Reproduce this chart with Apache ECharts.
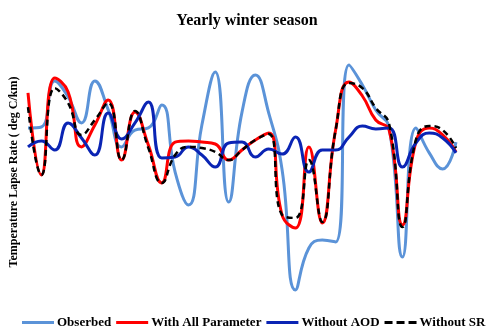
<!DOCTYPE html>
<html>
<head>
<meta charset="utf-8">
<script src="https://cdn.jsdelivr.net/npm/echarts@6/dist/echarts.min.js"></script>
<style>html,body{margin:0;padding:0;background:#fff}#c{width:500px;height:335px}</style>
</head>
<body>
<div id="c"></div>
<script>
var years = [];
for (var y = 1988; y <= 2020; y++) years.push(String(y));

var observed = [7.17,7.21,9.13,8.46,7.38,9.13,7.92,6.38,7.08,7.17,8.13,5.33,3.96,7.29,9.50,4.08,7.83,9.38,7.79,5.42,0.42,2.17,2.50,2.42,9.79,8.96,7.92,7.17,1.79,7.17,6.13,5.46,6.58];
var withAll = [8.63,5.21,9.25,8.67,6.38,7.29,8.33,5.83,7.83,6.46,4.88,6.58,6.63,6.58,6.50,5.83,6.25,6.67,6.96,3.54,3.00,6.38,3.21,7.08,9.08,8.50,7.50,7.08,3.13,6.58,7.17,6.88,6.17];
var withoutAOD = [6.38,6.63,6.25,7.38,6.75,6.04,7.79,6.71,7.38,8.25,5.92,5.96,6.38,6.04,5.54,6.54,6.58,5.96,6.29,6.08,6.79,5.33,6.25,6.25,6.79,7.25,7.13,7.17,5.54,6.54,6.96,6.75,6.13];
var withoutSR = [8.04,5.21,8.83,8.21,6.88,7.50,8.21,5.83,7.88,6.33,4.88,6.04,6.38,6.33,6.17,5.83,6.25,6.67,6.92,3.54,3.42,5.83,3.25,7.08,9.04,8.83,8.00,7.33,3.04,6.67,7.25,7.08,6.33];

var names = ['Obserbed', 'With All Parameter', 'Without AOD', 'Without SR'];
var serif = '"Liberation Serif", "DejaVu Serif", serif';

var chart = echarts.init(document.getElementById('c'), null, {renderer: 'canvas'});
function mk(name, data, color, width, type, z) {
  return {
    name: name, type: 'line', data: data, smooth: 0.5, symbol: 'none', z: z,
    lineStyle: {color: color, width: width, type: type},
    itemStyle: {color: color}
  };
}
var solidIcon = 'path://M0 0H32V3H0Z';
var dashIcon = 'path://M0 0H8V3H0Z M12 0H20V3H12Z M24 0H32V3H24Z';
chart.setOption({
  animation: false,
  title: {
    text: 'Yearly winter season', left: 242, top: 8, textAlign: 'center',
    textStyle: {fontFamily: serif, fontWeight: 'bold', fontSize: 16, color: '#000'}
  },
  grid: {left: 28, right: 44, top: 60, bottom: 35},
  xAxis: {type: 'category', data: years, boundaryGap: false, show: false},
  yAxis: {type: 'value', min: 0, max: 10, show: false},
  legend: {
    data: [
      {name: names[0], icon: solidIcon},
      {name: names[1], icon: solidIcon},
      {name: names[2], icon: solidIcon},
      {name: names[3], icon: dashIcon}
    ],
    left: 22, top: 316, width: 478, padding: 0, itemWidth: 32, itemHeight: 3, itemGap: 5,
    textStyle: {fontFamily: serif, fontWeight: 'bold', fontSize: 13, color: '#000', padding: [0, 0, 0, -2]}
  },
  graphic: [{
    type: 'text', x: 14, y: 172, rotation: Math.PI / 2,
    style: {text: 'Temperature Lapse Rate ( deg C/km)', font: 'bold 12px ' + serif, fill: '#000', align: 'center', verticalAlign: 'middle'}
  }],
  series: [
    mk(names[0], observed, '#5b93d8', 3, 'solid', 1),
    mk(names[1], withAll, '#ff0000', 3, 'solid', 2),
    mk(names[2], withoutAOD, '#0a24b4', 3, 'solid', 3),
    mk(names[3], withoutSR, '#000000', 2.5, [6, 4], 4)
  ]
});
</script>
</body>
</html>
